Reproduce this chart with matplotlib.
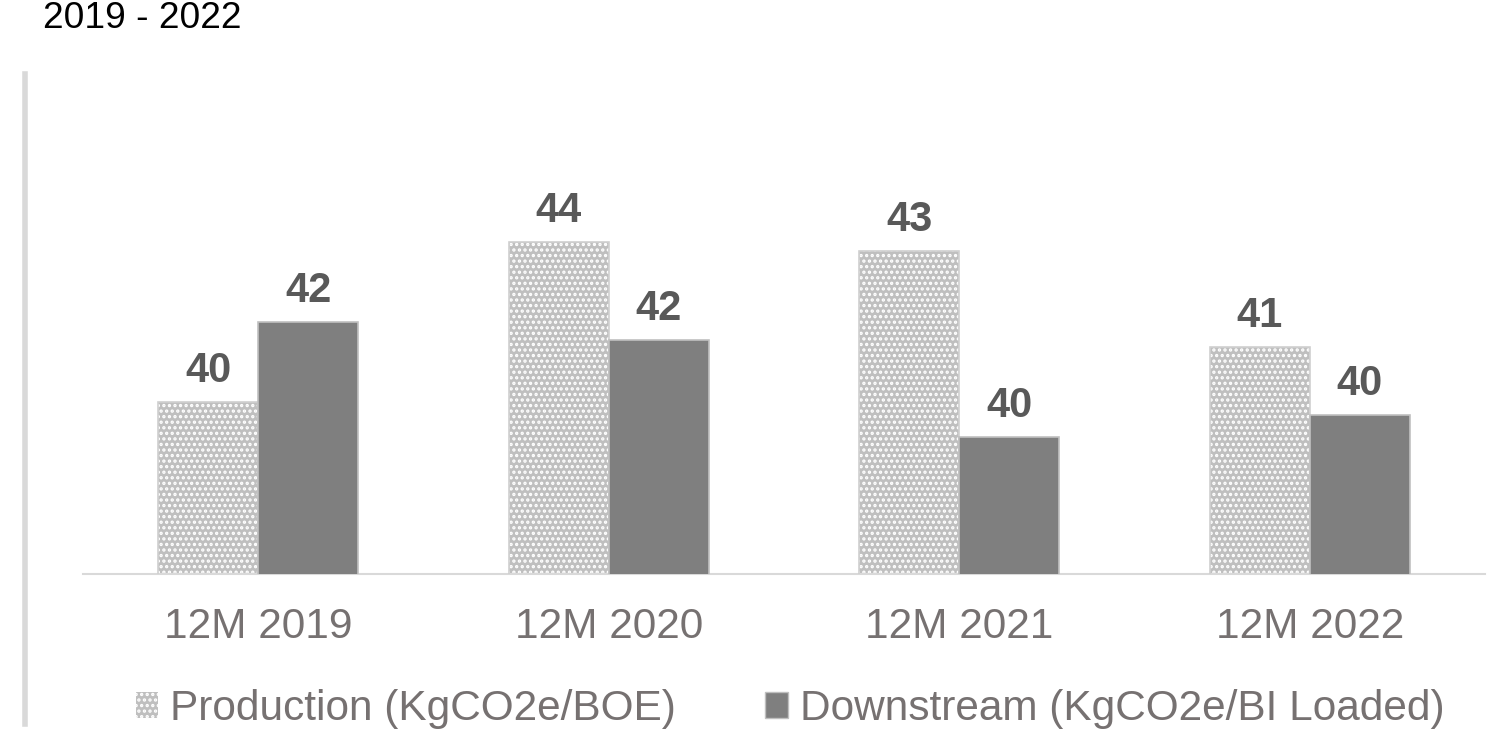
import matplotlib.pyplot as plt
import numpy as np
from matplotlib.patches import Patch
from matplotlib.lines import Line2D

plt.rcParams['font.family'] = ['Liberation Sans', 'DejaVu Sans']
plt.rcParams['hatch.linewidth'] = 1.6

categories = ["12M 2019", "12M 2020", "12M 2021", "12M 2022"]
production = [40.34, 43.54, 43.36, 41.44]
downstream = [41.94, 41.58, 39.64, 40.08]
prod_labels = ["40", "44", "43", "41"]
down_labels = ["42", "42", "40", "40"]

W, H = 1503, 745
fig = plt.figure(figsize=(W / 100, H / 100), dpi=100)
ax = fig.add_axes([83 / W, (H - 574) / H, (1485 - 83) / W, (574 - 100) / H])

x = np.arange(len(categories))
bw = 0.285

# dotted production bars: fill + white dots, then thin outline
ax.bar(x - bw / 2, production, bw, color="#bfbfbf", edgecolor="white",
       hatch="...", linewidth=0, zorder=2)
ax.bar(x - bw / 2, production, bw, fill=False, edgecolor="#d0d0d0",
       linewidth=1.2, zorder=3)
ax.bar(x + bw / 2, downstream, bw, color="#7f7f7f", edgecolor="#c0c0c0",
       linewidth=1.2, zorder=3)

for xs, vals, labs in [(x - bw / 2, production, prod_labels),
                       (x + bw / 2, downstream, down_labels)]:
    for xi, v, lab in zip(xs, vals, labs):
        ax.annotate(lab, (xi, v), xytext=(0, 14.5), textcoords="offset points",
                    ha="center", va="baseline", fontsize=30, fontweight="bold",
                    color="#595959")

ax.set_xlim(-0.5, 3.5)
ax.set_ylim(36.9, 36.9 + 474 / 50)
ax.set_yticks([])
ax.set_xticks(x)
ax.set_xticklabels(categories, fontsize=30.5, color="#767171")
ax.tick_params(axis="x", length=0, pad=24)
for s in ["top", "right", "left"]:
    ax.spines[s].set_visible(False)
ax.spines["bottom"].set_color("#d9d9d9")
ax.spines["bottom"].set_linewidth(1.5)

handles = [
    Patch(facecolor="#bfbfbf", edgecolor="white", hatch="...", linewidth=0),
    Patch(facecolor="#7f7f7f", edgecolor="#bfbfbf", linewidth=1),
]
leg = fig.legend(handles, ["Production (KgCO2e/BOE)", "Downstream (KgCO2e/BI Loaded)"],
                 loc="center", bbox_to_anchor=(790 / W, 1 - 709 / H), ncol=2,
                 frameon=False, fontsize=30.5, handlelength=0.54, handleheight=0.54,
                 handletextpad=0.28, columnspacing=2.1)
for t in leg.get_texts():
    t.set_color("#767171")

fig.text(43 / W, 1 - 18 / H, "2019 - 2022", fontsize=26.7, color="black",
         ha="left", va="center")
fig.add_artist(Line2D([25 / W, 25 / W], [1 - 74 / H, 1 - 724 / H],
                      color="#d9d9d9", linewidth=4, transform=fig.transFigure))

fig.savefig("out.png", dpi=100)
